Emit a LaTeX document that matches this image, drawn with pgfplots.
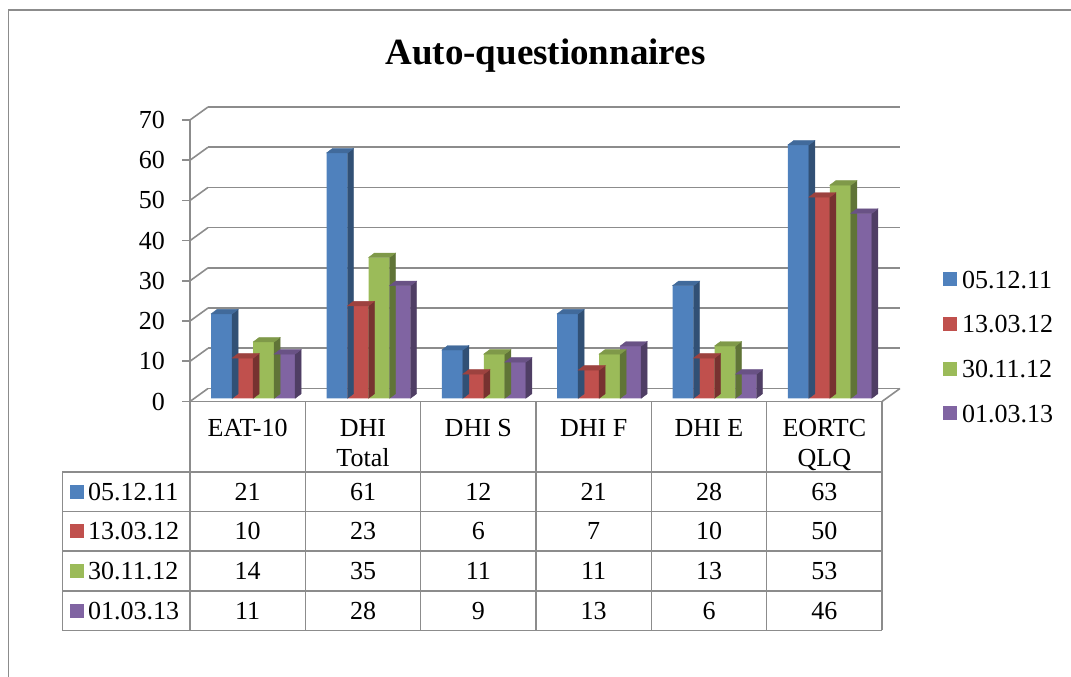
\documentclass[border=0pt]{standalone}
\usepackage{pgfplots}
\pgfplotsset{compat=1.18}
\usepackage{pgfplotstable}
\usepackage{fontspec}
\setmainfont{Liberation Serif}
\definecolor{cA}{HTML}{4F81BD}
\definecolor{cB}{HTML}{C0504D}
\definecolor{cC}{HTML}{9BBB59}
\definecolor{cD}{HTML}{8064A2}
\definecolor{gridc}{RGB}{140,140,140}
\newcommand\lbl{\fontsize{26}{30}\selectfont}

\pgfplotstableread{
i a b c d
0 21 10 14 11
1 61 23 35 28
2 12 6 11 9
3 21 7 11 13
4 28 10 13 6
5 63 50 53 46
}\data

\newcommand\defbarmark[2]{%
 \pgfdeclareplotmark{face#1}{%
  \fill[#2!62!black] (10.5pt,0pt) -- (16.5pt,4.5pt) -- (16.5pt,{(4.5-4.02143*\rawv)*1pt}) -- (10.5pt,{(-4.02143*\rawv)*1pt}) -- cycle;
  \fill[#2!82!black] (-10.5pt,0pt) -- (-4.5pt,4.5pt) -- (16.5pt,4.5pt) -- (10.5pt,0pt) -- cycle;
 }}
\defbarmark{A}{cA}
\defbarmark{B}{cB}
\defbarmark{C}{cC}
\defbarmark{D}{cD}

\pgfplotsset{lg/.style={legend image code/.code={\fill[##1] (0pt,-7pt) rectangle (14pt,7pt);}}}

\begin{document}
\begin{tikzpicture}[x=1pt,y=1pt]
\useasboundingbox (0,0) rectangle (1071,677);
% frame
\draw[gridc, line width=1.8pt] (8.5,-10) -- (8.5,667) -- (1090,667);
% title
\node[font=\fontsize{37}{44}\selectfont\bfseries, anchor=base] at (545.5,612) {Auto-questionnaires};

% back wall gridlines
\begin{axis}[at={(208pt,288.5pt)}, anchor=south west, scale only axis,
  width=692pt, height=281.5pt, xmin=0, xmax=6, ymin=0, ymax=70,
  ytick={0,10,...,70}, xtick=\empty, yticklabels={}, ymajorgrids,
  grid style={draw=gridc, line width=1.6pt},
  axis line style={draw=none}, major tick length=0pt]
\addplot[draw=none, mark=none] coordinates {(0,0) (6,70)};
\end{axis}

% bars
\begin{axis}[at={(195.5pt,278.7pt)}, anchor=south west, scale only axis,
  width=692pt, height=281.5pt, xmin=0, xmax=6, ymin=0, ymax=70,
  hide axis, clip=false,
  legend style={at={(1.0802,0.4547)}, anchor=north west, draw=none, fill=none,
    font=\lbl, row sep=27.2pt, column sep=5pt, inner sep=0pt,
    nodes={inner sep=0pt, text height=17.5pt, text depth=0pt}},
  legend cell align=left]
\addplot[only marks, mark=faceA, forget plot, visualization depends on={\thisrow{a}\as\rawv}] table[x expr=\thisrow{i}+0.5-0.27312, y=a]{\data};
\addplot[only marks, mark=faceB, forget plot, visualization depends on={\thisrow{b}\as\rawv}] table[x expr=\thisrow{i}+0.5-0.091041, y=b]{\data};
\addplot[only marks, mark=faceC, forget plot, visualization depends on={\thisrow{c}\as\rawv}] table[x expr=\thisrow{i}+0.5+0.091041, y=c]{\data};
\addplot[only marks, mark=faceD, forget plot, visualization depends on={\thisrow{d}\as\rawv}] table[x expr=\thisrow{i}+0.5+0.27312, y=d]{\data};
\addplot[ybar, bar width=21pt, bar shift=-31.5pt, fill=cA, draw=none, lg] table[x expr=\thisrow{i}+0.5, y=a]{\data};
\addlegendentry{05.12.11}
\addplot[ybar, bar width=21pt, bar shift=-10.5pt, fill=cB, draw=none, lg] table[x expr=\thisrow{i}+0.5, y=b]{\data};
\addlegendentry{13.03.12}
\addplot[ybar, bar width=21pt, bar shift=10.5pt, fill=cC, draw=none, lg] table[x expr=\thisrow{i}+0.5, y=c]{\data};
\addlegendentry{30.11.12}
\addplot[ybar, bar width=21pt, bar shift=31.5pt, fill=cD, draw=none, lg] table[x expr=\thisrow{i}+0.5, y=d]{\data};
\addlegendentry{01.03.13}
\end{axis}

% front axis
\begin{axis}[at={(190pt,275.5pt)}, anchor=south west, scale only axis,
  width=692pt, height=281.5pt, xmin=0, xmax=6, ymin=0, ymax=70,
  axis x line*=bottom, axis y line*=left,
  axis line style={-, draw=gridc, line width=1.6pt},
  ytick={0,10,...,70}, xtick={0.5,1.5,...,5.5},
  xticklabels={EAT-10,{DHI\\Total},DHI S,DHI F,DHI E,{EORTC\\QLQ}},
  tick align=outside, major tick length=8pt,
  ytick style={draw=gridc, line width=1.6pt}, xtick style={draw=none},
  tick label style={font=\lbl},
  yticklabel style={inner sep=0pt, xshift=-17pt},
  xticklabel style={align=center, inner sep=0pt, anchor=north, yshift=-10pt},
  /pgf/number format/assume math mode=true, clip=false]
\addplot[draw=none, mark=none] coordinates {(0,0) (6,70)};
\pgfplotsinvokeforeach{0,10,...,70}{\draw[gridc, line width=1.6pt] (axis cs:0,#1) -- ++(18pt,13pt);}
\draw[gridc, line width=1.6pt] (axis cs:6,0) -- ++(18pt,13pt);
\end{axis}

% data table
\begin{axis}[at={(190pt,46.6pt)}, anchor=south west, scale only axis,
  width=692pt, height=228.9pt, xmin=0, xmax=6, ymin=0, ymax=5.77,
  hide axis, clip=false,
  nodes near coords={\pgfmathprintnumber{\pgfplotspointmeta}},
  nodes near coords align=center,
  every node near coord/.append style={font=\lbl, inner sep=0pt, anchor=center},
  /pgf/number format/assume math mode=true]
\addplot[draw=none, mark=none, point meta=\thisrow{a}] table[x expr=\thisrow{i}+0.5, y expr=3.5]{\data};
\addplot[draw=none, mark=none, point meta=\thisrow{b}] table[x expr=\thisrow{i}+0.5, y expr=2.5]{\data};
\addplot[draw=none, mark=none, point meta=\thisrow{c}] table[x expr=\thisrow{i}+0.5, y expr=1.5]{\data};
\addplot[draw=none, mark=none, point meta=\thisrow{d}] table[x expr=\thisrow{i}+0.5, y expr=0.5]{\data};
\pgfplotsinvokeforeach{0,1,2,3,4}{\draw[gridc, line width=1.6pt] (axis cs:-1.107,#1) -- (axis cs:6,#1);}
\pgfplotsinvokeforeach{0,1,2,3,4,5,6}{\draw[gridc, line width=1.6pt] (axis cs:#1,0) -- (axis cs:#1,5.77);}
\draw[gridc, line width=1.6pt] (axis cs:-1.107,0) -- (axis cs:-1.107,4);
\node[anchor=west, inner sep=0pt, font=\lbl, xshift=7.7pt] at (axis cs:-1.107,3.5) {\textcolor{cA}{\rule[1.5pt]{14pt}{14pt}}\hspace{4pt}05.12.11};
\node[anchor=west, inner sep=0pt, font=\lbl, xshift=7.7pt] at (axis cs:-1.107,2.5) {\textcolor{cB}{\rule[1.5pt]{14pt}{14pt}}\hspace{4pt}13.03.12};
\node[anchor=west, inner sep=0pt, font=\lbl, xshift=7.7pt] at (axis cs:-1.107,1.5) {\textcolor{cC}{\rule[1.5pt]{14pt}{14pt}}\hspace{4pt}30.11.12};
\node[anchor=west, inner sep=0pt, font=\lbl, xshift=7.7pt] at (axis cs:-1.107,0.5) {\textcolor{cD}{\rule[1.5pt]{14pt}{14pt}}\hspace{4pt}01.03.13};
\end{axis}
\end{tikzpicture}
\end{document}
